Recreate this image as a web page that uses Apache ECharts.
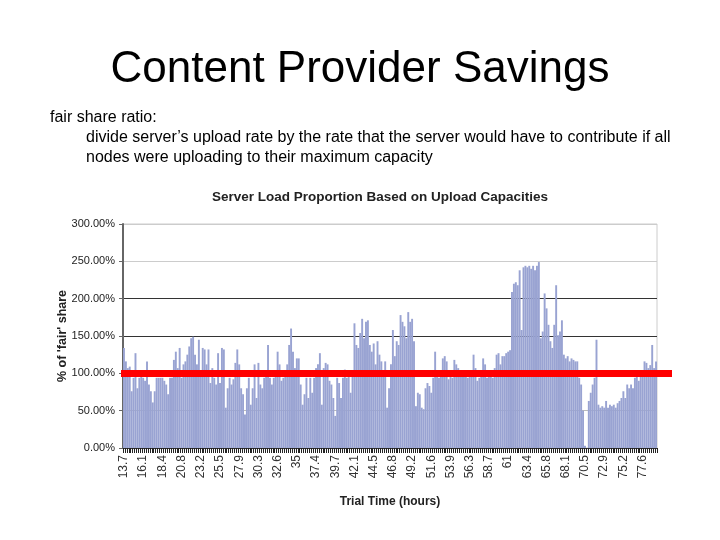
<!DOCTYPE html>
<html>
<head>
<meta charset="utf-8">
<title>Content Provider Savings</title>
<script src="https://cdn.jsdelivr.net/npm/echarts@6/dist/echarts.min.js"></script>
<style>
  html, body { margin: 0; padding: 0; background: #fff; }
  #main { width: 720px; height: 540px; }
</style>
</head>
<body>
<div id="main"></div>
<script>
// tick labels on the time axis (hours), one every 10 samples
var tickLabels = ['13.7','16.1','18.4','20.8','23.2','25.5','27.9','30.3','32.6','35',
  '37.4','39.7','42.1','44.5','46.8','49.2','51.6','53.9','56.3','58.7',
  '61','63.4','65.8','68.1','70.5','72.9','75.2','77.6'];

// server load as % of fair share in four stretches
var loadA = [134,116,107,109,76,94,127,80,94,98,94,90,116,85,76,61,76,94,94,94,
  94,90,85,72,94,94,118,129,107,134,94,112,116,125,136,147,149,125,112,145,
  103,134,132,112,132,87,107,94,85,127,87,134,132,54,80,94,85,92,114,132,
  112,80,72,45,80,94];
var loadB = [58,80,112,67,114,85,80,94,96,138,94,85,94,98,129,112,90,94,98,112,
  138,160,129,107,120,120,85,58,72,94,67,94,74,94,107,112,127,58,107,114,
  112,90,85,67,43,94,87,67,94,105,94,103,74,103,167,138,134,154,173,147,
  169,171,138,129,140,112,143,125];
var loadC = [116,103,116,54,80,112,158,123,143,138,178,169,163,147,182,169,173,143,56,74,
  72,54,52,80,87,83,74,94,129,103,94,98,120,123,116,92,98,94,118,112,
  107,103,98,98,96,94,98,103,125,107,90,94,98,120,112,94,98,98,94,107,
  125,127,112,123,123,127,129,131];
var loadD = [209,220,222,218,238,158,242,244,242,244,240,244,238,244,249,147,156,207,187,165,
  143,134,165,218,151,156,171,125,120,123,116,120,118,116,116,94,85,50,3,0,
  63,74,85,94,145,58,54,56,54,63,54,58,56,58,54,60,63,67,76,67,
  85,80,85,80,94,98,90,100,104,116,114,107,111,138,107,116];

var fairShare = 100;
var load = loadA.concat(loadB, loadC, loadD);

var categories = [];
for (var i = 0; i < load.length; i++) {
  categories.push(i % 10 === 0 && tickLabels[i / 10] ? tickLabels[i / 10] : '');
}

var narrow = '"Liberation Sans Narrow", "Arial Narrow", "Liberation Sans", Arial, sans-serif';
var sans = '"Liberation Sans", Arial, sans-serif';

var myChart = echarts.init(document.getElementById('main'));

var option = {
  backgroundColor: '#fff',
  animation: false,
  title: [
    { text: 'Content Provider Savings', left: 'center', top: 48, padding: 0,
      textStyle: { fontFamily: sans, fontSize: 44, fontWeight: 'normal', color: '#000' } },
    { text: 'fair share ratio:', left: 50, top: 110, padding: 0,
      textStyle: { fontFamily: sans, fontSize: 16, fontWeight: 'normal', color: '#000' } },
    { text: 'divide server\u2019s upload rate by the rate that the server would have to contribute if all\nnodes were uploading to their maximum capacity',
      left: 86, top: 128, padding: 0,
      textStyle: { fontFamily: sans, fontSize: 16, fontWeight: 'normal', color: '#000', lineHeight: 19.5 } },
    { text: 'Server Load Proportion Based on Upload Capacities', left: 212, top: 190, padding: 0,
      textStyle: { fontFamily: narrow, fontSize: 13.5, fontWeight: 'bold', color: '#222' } }
  ],
  grid: {
    left: 123, right: 63, top: 224, bottom: 92,
    show: true, borderColor: '#ccc', borderWidth: 1
  },
  xAxis: {
    type: 'category',
    data: categories,
    name: 'Trial Time (hours)',
    nameLocation: 'middle',
    nameGap: 48,
    nameMoveOverlap: false,
    nameTextStyle: { fontFamily: narrow, fontSize: 12, fontWeight: 'bold', color: '#222' },
    axisLine: { lineStyle: { color: '#333', width: 1 } },
    axisTick: { show: true, interval: 0, length: 5, lineStyle: { color: '#222' } },
    axisLabel: {
      interval: function (idx) { return idx % 10 === 0; },
      rotate: 90,
      margin: 7,
      fontFamily: sans,
      fontSize: 12,
      color: '#333'
    }
  },
  yAxis: {
    type: 'value',
    min: 0,
    max: 300,
    interval: 50,
    name: "% of 'fair' share",
    nameLocation: 'middle',
    nameGap: 54,
    nameMoveOverlap: false,
    nameTextStyle: { fontFamily: narrow, fontSize: 12.5, fontWeight: 'bold', color: '#222' },
    axisLine: { show: true, lineStyle: { color: '#666', width: 2 } },
    axisTick: { show: true, length: 4, lineStyle: { color: '#666' } },
    axisLabel: {
      margin: 8,
      fontFamily: narrow,
      fontSize: 11,
      color: '#222',
      formatter: function (v) { return v.toFixed(2) + '%'; }
    },
    splitLine: { lineStyle: { color: ['#bbb','#bbb','#bbb','#333','#333','#ccc','#ccc'], width: 1 } }
  },
  series: [{
    name: 'load',
    type: 'bar',
    data: load,
    barCategoryGap: '0%',
    itemStyle: { color: '#99a3d2' },
    markLine: {
      silent: true,
      symbol: ['none', 'none'],
      label: { show: false },
      lineStyle: { color: '#ff0000', width: 7, type: 'solid' },
      data: [[{ x: 121, yAxis: fairShare }, { x: 672, yAxis: fairShare }]]
    }
  }]
};

myChart.setOption(option);
</script>
</body>
</html>
